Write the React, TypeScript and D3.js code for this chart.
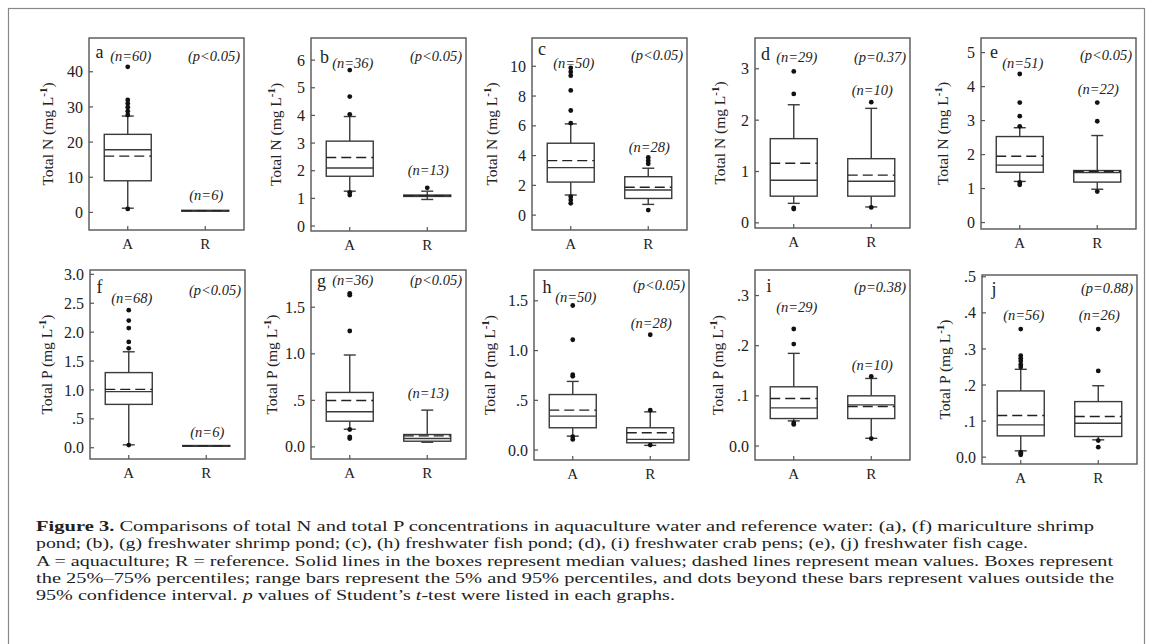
import React from 'react';
import * as d3 from 'd3';

type Box = { q1: number; median: number; mean: number; q3: number; lo?: number; hi?: number; out: number[] };

const categories = ['A', 'R'];
const panelLetters = ['a', 'b', 'c', 'd', 'e', 'f', 'g', 'h', 'i', 'j'];
const sampleSizes = [[60, 6], [36, 13], [50, 28], [29, 10], [51, 22], [68, 6], [36, 13], [50, 28], [29, 10], [56, 26]];
const pValues = ['p<0.05', 'p<0.05', 'p<0.05', 'p=0.37', 'p<0.05', 'p<0.05', 'p<0.05', 'p<0.05', 'p=0.38', 'p=0.88'];
const yTitles = ['Total N', 'Total N', 'Total N', 'Total N', 'Total N', 'Total P', 'Total P', 'Total P', 'Total P', 'Total P'];
const yTicks = [
  [0, 10, 20, 30, 40], [0, 1, 2, 3, 4, 5, 6], [0, 2, 4, 6, 8, 10], [0, 1, 2, 3], [0, 1, 2, 3, 4, 5],
  [0, 0.5, 1, 1.5, 2, 2.5, 3], [0, 0.5, 1, 1.5], [0, 0.5, 1, 1.5], [0, 0.1, 0.2, 0.3], [0, 0.1, 0.2, 0.3, 0.4, 0.5],
];
const yDomains = [
  [-5, 49.6], [-0.18, 6.8], [-1, 11.9], [-0.1, 3.6], [-0.19, 5.43],
  [-0.195, 3.075], [-0.13, 1.9], [-0.1, 1.81], [-0.028, 0.351], [-0.019, 0.505],
];

// total N
const mariShrimpN: Box[] = [
  { q1: 9.0, median: 17.8, mean: 16.0, q3: 22.2, lo: 1.2, hi: 27.4, out: [41.4, 32.0, 31.0, 29.9, 28.8, 27.7, 1.0] },
  { q1: 0.35, median: 0.45, mean: 0.5, q3: 0.6, out: [] },
];
const freshShrimpN: Box[] = [
  { q1: 1.8, median: 2.1, mean: 2.48, q3: 3.07, lo: 1.26, hi: 3.96, out: [5.64, 4.68, 4.04, 1.22, 1.12] },
  { q1: 1.07, median: 1.09, mean: 1.1, q3: 1.12, lo: 0.96, hi: 1.26, out: [1.38] },
];
const freshFishN: Box[] = [
  { q1: 2.22, median: 3.19, mean: 3.66, q3: 4.83, lo: 1.35, hi: 6.13, out: [9.89, 9.62, 9.37, 8.38, 7.03, 6.18, 1.24, 1.01, 0.79] },
  { q1: 1.12, median: 1.69, mean: 1.87, q3: 2.58, lo: 0.72, hi: 3.15, out: [3.87, 3.66, 3.45, 0.34] },
];
const crabPenN: Box[] = [
  { q1: 0.52, median: 0.83, mean: 1.16, q3: 1.64, lo: 0.38, hi: 2.3, out: [2.95, 2.51, 0.29, 0.27] },
  { q1: 0.52, median: 0.81, mean: 0.93, q3: 1.25, lo: 0.31, hi: 2.23, out: [2.35, 0.3] },
];
const fishCageN: Box[] = [
  { q1: 1.48, median: 1.69, mean: 1.95, q3: 2.53, lo: 1.21, hi: 2.79, out: [4.37, 3.53, 3.13, 2.83, 1.18, 1.11] },
  { q1: 1.19, median: 1.47, mean: 1.51, q3: 1.53, lo: 0.98, hi: 2.56, out: [3.53, 2.98, 0.91] },
];
// total P
const mariShrimpP: Box[] = [
  { q1: 0.75, median: 0.97, mean: 1.01, q3: 1.3, lo: 0.05, hi: 1.66, out: [2.38, 2.2, 2.07, 1.83, 1.72, 0.046] },
  { q1: 0.025, median: 0.03, mean: 0.032, q3: 0.038, out: [] },
];
const freshShrimpP: Box[] = [
  { q1: 0.276, median: 0.377, mean: 0.499, q3: 0.585, lo: 0.19, hi: 0.987, out: [1.65, 1.63, 1.245, 0.187, 0.108, 0.09] },
  { q1: 0.061, median: 0.09, mean: 0.118, q3: 0.133, lo: 0.05, hi: 0.395, out: [] },
];
const freshFishP: Box[] = [
  { q1: 0.224, median: 0.341, mean: 0.401, q3: 0.558, lo: 0.14, hi: 0.69, out: [1.453, 1.109, 0.758, 0.742, 0.134, 0.107] },
  { q1: 0.073, median: 0.107, mean: 0.174, q3: 0.224, lo: 0.047, hi: 0.384, out: [1.159, 0.4, 0.05] },
];
const crabPenP: Box[] = [
  { q1: 0.0547, median: 0.076, mean: 0.0947, q3: 0.118, lo: 0.05, hi: 0.1847, out: [0.2333, 0.2033, 0.046, 0.043] },
  { q1: 0.0547, median: 0.082, mean: 0.0787, q3: 0.1, lo: 0.0153, hi: 0.1347, out: [0.1387, 0.0147] },
];
const fishCageP: Box[] = [
  { q1: 0.059, median: 0.0895, mean: 0.1153, q3: 0.1836, lo: 0.0175, hi: 0.2435, out: [0.355, 0.2814, 0.274, 0.2666, 0.257, 0.25, 0.0138, 0.01, 0.0065] },
  { q1: 0.0572, median: 0.094, mean: 0.1125, q3: 0.154, lo: 0.048, hi: 0.198, out: [0.355, 0.239, 0.046, 0.0277] },
];
const boxStats = [mariShrimpN, freshShrimpN, freshFishN, crabPenN, fishCageN, mariShrimpP, freshShrimpP, freshFishP, crabPenP, fishCageP];

const captionLines = [
  'Comparisons of total N and total P concentrations in aquaculture water and reference water: (a), (f) mariculture shrimp',
  'pond; (b), (g) freshwater shrimp pond; (c), (h) freshwater fish pond; (d), (i) freshwater crab pens; (e), (j) freshwater fish cage.',
  'A = aquaculture; R = reference. Solid lines in the boxes represent median values; dashed lines represent mean values. Boxes represent',
  'the 25%–75% percentiles; range bars represent the 5% and 95% percentiles, and dots beyond these bars represent values outside the',
];

// layout
const panelLeft = [89, 311, 532, 755, 981, 90, 311, 534, 755, 982];
const panelTop = [38, 38, 38, 38, 38, 270, 270, 270, 270, 275];
const panelBottom = [230, 231, 230, 228, 229, 459, 459, 460, 460, 464];
const panelW = 155;
const letterDx = [6.5, 9, 6, 6, 9, 6.5, 6, 8.5, 11.5, 9.5];
const letterBase = [19.5, 25, 17, 22, 20, 23, 16.5, 23, 21.5, 20];
const nDyA = [18, 25, 25, 19, 25, 28, 10, 27, 37, 40];
const nDyR = [157, 132, 109, 52, 51, 162, 123, 53, 95, 40];
const pDy = [18, 18, 17, 19, 17, 20, 10, 15, 17, 13];
const titleGap = [41, 35, 40, 35, 38, 43, 39, 44, 37, 37];
const captionX = 36;
const captionBase = 531;
const captionLead = 17.3;
const captionWidths = [1058, 992, 1077, 1078, 639];

const SERIF = 'Liberation Serif';
const boxW = 47;
const capW = 12;
const ink = '#3a3a3a';

const fmtTick = (v: number, i: number) => {
  if (i < 5) return String(v);
  if (v === 0) return '0.0';
  if (v < 1) return d3.format('.1f')(v).replace(/^0/, '');
  return d3.format('.1f')(v);
};

function Panel({ i }: { i: number }) {
  const left = panelLeft[i];
  const right = left + panelW;
  const top = panelTop[i];
  const bottom = panelBottom[i];
  const y = d3.scaleLinear().domain(yDomains[i]).range([bottom, top]);
  const x = d3.scalePoint().domain(categories).range([left, right]).padding(0.5);
  const midY = (top + bottom) / 2;

  return (
    <g>
      <rect x={left} y={top} width={panelW} height={bottom - top} fill="none" stroke="#555" strokeWidth={1.4} />
      {yTicks[i].map((t) => (
        <g key={t}>
          <line x1={left} x2={left + 4} y1={y(t)} y2={y(t)} stroke="#555" strokeWidth={1.2} />
          <text x={left - 6} y={y(t)} dy="0.35em" textAnchor="end" fontFamily={SERIF} fontSize={16} fill="#222">
            {fmtTick(t, i)}
          </text>
        </g>
      ))}
      {categories.map((c) => (
        <g key={c}>
          <line x1={x(c)} x2={x(c)} y1={bottom} y2={bottom - 4} stroke="#555" strokeWidth={1.2} />
          <text x={x(c)} y={bottom + 19} textAnchor="middle" fontFamily={SERIF} fontSize={15} fill="#222">
            {c}
          </text>
        </g>
      ))}
      <text
        transform={`translate(${left - titleGap[i]},${midY}) rotate(-90)`}
        textAnchor="middle"
        dy="0.35em"
        fontFamily={SERIF}
        fontSize={15.5}
        fill="#222"
      >
        {yTitles[i]} (mg L
        <tspan dy={-6} fontSize={11} fontWeight="bold">-1</tspan>
        <tspan dy={6}>)</tspan>
      </text>

      {boxStats[i].map((b, j) => {
        const cx = x(categories[j]) as number;
        const x0 = cx - boxW / 2;
        const x1 = cx + boxW / 2;
        return (
          <g key={j} stroke={ink} strokeWidth={1.4} fill="none">
            {b.hi != null && (
              <>
                <line x1={cx} x2={cx} y1={y(b.q3)} y2={y(b.hi)} />
                <line x1={cx - capW / 2} x2={cx + capW / 2} y1={y(b.hi)} y2={y(b.hi)} />
              </>
            )}
            {b.lo != null && (
              <>
                <line x1={cx} x2={cx} y1={y(b.q1)} y2={y(b.lo)} />
                <line x1={cx - capW / 2} x2={cx + capW / 2} y1={y(b.lo)} y2={y(b.lo)} />
              </>
            )}
            <rect x={x0} y={y(b.q3)} width={boxW} height={Math.max(0, y(b.q1) - y(b.q3))} fill="#fff" />
            <line x1={x0} x2={x1} y1={y(b.median)} y2={y(b.median)} />
            <line x1={x0} x2={x1} y1={y(b.mean)} y2={y(b.mean)} stroke="#222" strokeDasharray="10,5" />
            {b.out.map((v, k) => (
              <circle key={k} cx={cx} cy={y(v)} r={2.4} fill="#111" stroke="none" />
            ))}
          </g>
        );
      })}

      <text x={left + letterDx[i]} y={top + letterBase[i]} fontFamily={SERIF} fontSize={18} fill="#222">
        {panelLetters[i]}
      </text>
      <text x={(x('A') as number) + 3} y={top + nDyA[i]} dy="0.35em" textAnchor="middle" fontFamily={SERIF} fontSize={14.5} fontStyle="italic" fill="#222">
        (n={sampleSizes[i][0]})
      </text>
      <text x={(x('R') as number) + 1} y={top + nDyR[i]} dy="0.35em" textAnchor="middle" fontFamily={SERIF} fontSize={14.5} fontStyle="italic" fill="#222">
        (n={sampleSizes[i][1]})
      </text>
      <text x={right - 4} y={top + pDy[i]} dy="0.35em" textAnchor="end" fontFamily={SERIF} fontSize={14.5} fontStyle="italic" fill="#222">
        ({pValues[i]})
      </text>
    </g>
  );
}

export default function App() {
  return (
    <>
      <style>{'body{margin:0} svg text{font-family:"Liberation Serif",serif}'}</style>
      <svg width={1153} height={644} style={{ display: 'block', background: '#fff' }}>
        <rect x={8.5} y={8.5} width={1136} height={640} fill="none" stroke="#888" strokeWidth={1.2} />
        {panelLetters.map((_, i) => (
          <Panel key={i} i={i} />
        ))}
        <g fontSize={15.5} fill="#222">
          <text x={captionX} y={captionBase} fontFamily={SERIF} textLength={captionWidths[0]} lengthAdjust="spacingAndGlyphs">
            <tspan fontWeight="bold">Figure 3.</tspan> {captionLines[0]}
          </text>
          {captionLines.slice(1).map((line, k) => (
            <text
              key={k}
              x={captionX}
              y={captionBase + captionLead * (k + 1)}
              fontFamily={SERIF}
              textLength={captionWidths[k + 1]}
              lengthAdjust="spacingAndGlyphs"
            >
              {line}
            </text>
          ))}
          <text x={captionX} y={captionBase + captionLead * 4} fontFamily={SERIF} textLength={captionWidths[4]} lengthAdjust="spacingAndGlyphs">
            95% confidence interval. <tspan fontStyle="italic">p</tspan> values of Student’s{' '}
            <tspan fontStyle="italic">t</tspan>-test were listed in each graphs.
          </text>
        </g>
      </svg>
    </>
  );
}
